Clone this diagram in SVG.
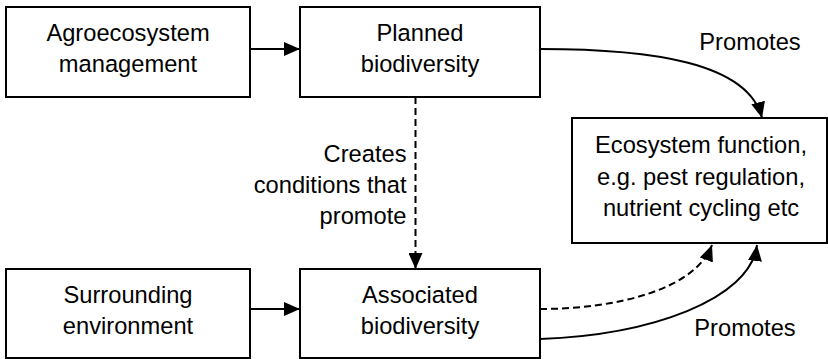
<svg xmlns="http://www.w3.org/2000/svg" width="828" height="359" viewBox="0 0 828 359">
  <style>
    .box { fill: #ffffff; stroke: #000000; stroke-width: 2; }
    .lbl { font-family: "Liberation Sans", Arial, sans-serif; font-size: 23.7px; fill: #000000; text-anchor: middle; }
    .end { text-anchor: end; }
    .link { fill: none; stroke: #000000; stroke-width: 2; }
    .dash { stroke-dasharray: 7 4; }
  </style>
  <defs>
    <marker id="arrow" markerUnits="userSpaceOnUse" markerWidth="16" markerHeight="14" refX="16" refY="7" orient="auto">
      <path d="M0,0 L16,7 L0,14 Z" fill="#000000"/>
    </marker>
  </defs>

  <rect x="0" y="0" width="828" height="359" fill="#ffffff"/>

  <g id="connectors">
    <line class="link" x1="250" y1="49" x2="300" y2="49" marker-end="url(#arrow)"/>
    <line class="link" x1="250" y1="309" x2="300" y2="309" marker-end="url(#arrow)"/>
    <line class="link dash" x1="415.5" y1="97" x2="415.5" y2="269" marker-end="url(#arrow)"/>
    <path class="link" d="M540,49 C650,49 748,62 762,118" marker-end="url(#arrow)"/>
    <path class="link dash" d="M540,309 C615,309 695,290 712,245" marker-end="url(#arrow)"/>
    <path class="link" d="M540,339 C650,335 750,300 757,245" marker-end="url(#arrow)"/>
    <text class="lbl" x="750" y="50">Promotes</text>
    <text class="lbl" x="745" y="336">Promotes</text>
    <text class="lbl end" x="406.5" y="162">Creates</text>
    <text class="lbl end" x="406.5" y="193">conditions that</text>
    <text class="lbl end" x="406.5" y="224">promote</text>
  </g>

  <g id="agroecosystem-management">
    <rect class="box" x="6" y="7" width="244" height="90"/>
    <text class="lbl" x="128" y="40.5">Agroecosystem</text>
    <text class="lbl" x="128" y="72">management</text>
  </g>

  <g id="planned-biodiversity">
    <rect class="box" x="300" y="7" width="240" height="90"/>
    <text class="lbl" x="420" y="40.5">Planned</text>
    <text class="lbl" x="420" y="72">biodiversity</text>
  </g>

  <g id="ecosystem-function">
    <rect class="box" x="572" y="118" width="255" height="125"/>
    <text class="lbl" x="701" y="153">Ecosystem function,</text>
    <text class="lbl" x="701" y="184.5">e.g. pest regulation,</text>
    <text class="lbl" x="701" y="216">nutrient cycling etc</text>
  </g>

  <g id="surrounding-environment">
    <rect class="box" x="6" y="269" width="244" height="89"/>
    <text class="lbl" x="128" y="303">Surrounding</text>
    <text class="lbl" x="128" y="334">environment</text>
  </g>

  <g id="associated-biodiversity">
    <rect class="box" x="300" y="269" width="240" height="89"/>
    <text class="lbl" x="420" y="303">Associated</text>
    <text class="lbl" x="420" y="334">biodiversity</text>
  </g>
</svg>
